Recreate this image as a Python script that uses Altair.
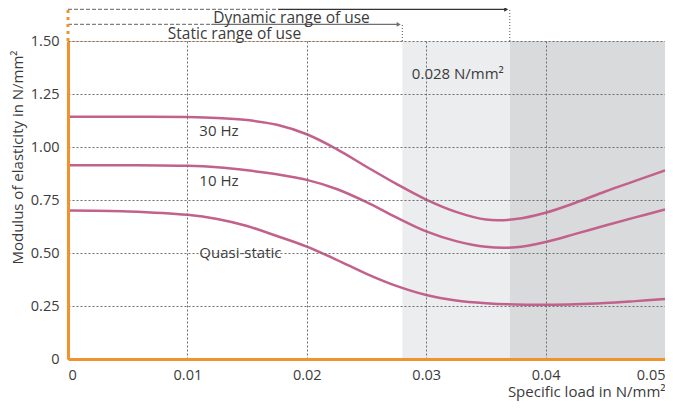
import altair as alt
import pandas as pd

# ---- data ----
load = [0, 0.005, 0.01, 0.0125, 0.015, 0.0175, 0.02, 0.0225, 0.025, 0.0275,
        0.03, 0.0325, 0.035, 0.0375, 0.04, 0.0425, 0.045, 0.0475, 0.05]
hz30 = [1.143, 1.143, 1.141, 1.137, 1.127, 1.105, 1.060, 0.990, 0.907, 0.826,
        0.752, 0.694, 0.658, 0.660, 0.690, 0.737, 0.790, 0.840, 0.890]
hz10 = [0.914, 0.914, 0.911, 0.904, 0.890, 0.871, 0.845, 0.802, 0.740, 0.668,
        0.602, 0.556, 0.529, 0.527, 0.552, 0.590, 0.630, 0.668, 0.705]
quasi = [0.700, 0.696, 0.680, 0.660, 0.627, 0.580, 0.530, 0.468, 0.402, 0.345,
         0.302, 0.276, 0.263, 0.257, 0.256, 0.258, 0.264, 0.273, 0.283]
series_names = ["30 Hz", "10 Hz", "Quasi-static"]

static_limit = 0.028
dynamic_limit = 0.037
x_max = 0.05
y_max = 1.5

x_ticks = [0, 0.01, 0.02, 0.03, 0.04, 0.05]
y_ticks = [0, 0.25, 0.5, 0.75, 1.0, 1.25, 1.5]

label_x = [0.011, 0.011, 0.011]
label_y = [1.077, 0.841, 0.50]

FONT = "Open Sans"
TXT = "#3b3b3b"
ORANGE = "#f0922e"
PINK = "#c2618b"

W, H = 597, 318

rows = []
for name, vals in zip(series_names, [hz30, hz10, quasi]):
    for xv, yv in zip(load, vals):
        rows.append({"load": xv, "E": yv, "series": name})
curves = pd.DataFrame(rows)

xs = alt.Scale(domain=[0, x_max], nice=False, zero=False)
ys = alt.Scale(domain=[0, y_max], nice=False)

lbl = "datum.value == 0 ? '0' : format(datum.value, '.2f')"

shade = pd.DataFrame({
    "x": [static_limit, dynamic_limit], "x2": [dynamic_limit, x_max],
    "y": [0, 0], "y2": [y_max, y_max], "c": ["light", "dark"]})

base_rect = alt.Chart(shade).mark_rect().encode(
    x=alt.X("x:Q", scale=xs, axis=alt.Axis(
        values=x_ticks, labelExpr=lbl, title="Specific load in N/mm²",
        grid=True, gridColor="#6f6f6f", gridDash=[2, 2], gridWidth=1,
        domainColor=ORANGE, domainWidth=3, ticks=False, labelPadding=9,
        labelFontSize=14.5, labelColor=TXT, labelFont=FONT, labelFlush=True,
        titleFont=FONT, titleFontSize=15, titleColor=TXT, titleFontWeight="normal",
        titleX=W, titleY=37, titleAlign="right", titleBaseline="alphabetic",
        titleAnchor="end", zindex=1)),
    x2="x2:Q",
    y=alt.Y("y:Q", scale=ys, axis=alt.Axis(
        values=y_ticks, labelExpr=lbl, title="Modulus of elasticity in N/mm²",
        grid=True, gridColor="#6f6f6f", gridDash=[2, 2], gridWidth=1,
        domainColor=ORANGE, domainWidth=3, ticks=False, labelPadding=9,
        labelFontSize=14.5, labelColor=TXT, labelFont=FONT, labelFlush=False,
        titleFont=FONT, titleFontSize=15, titleColor=TXT, titleFontWeight="normal",
        titleX=-51, titleY=116, titleAngle=270, titleAlign="center",
        titleBaseline="middle", zindex=1)),
    y2="y2:Q",
    color=alt.Color("c:N", scale=alt.Scale(domain=["light", "dark"],
                                           range=["#ecedef", "#d9dadb"]), legend=None),
)

lines = alt.Chart(curves).mark_line(interpolate="catmull-rom", color=PINK, strokeWidth=2.5).encode(
    x=alt.X("load:Q", scale=xs),
    y=alt.Y("E:Q", scale=ys),
    detail="series:N",
)

labels_df = pd.DataFrame({"x": label_x, "y": label_y, "t": series_names})
labels = alt.Chart(labels_df).mark_text(
    align="left", baseline="middle", font=FONT, fontSize=15, color=TXT).encode(
    x=alt.X("x:Q", scale=xs), y=alt.Y("y:Q", scale=ys), text="t:N")

note_df = pd.DataFrame({"x": [0.0288], "y": [1.346], "t": ["0.028 N/mm²"]})
note = alt.Chart(note_df).mark_text(
    align="left", baseline="middle", font=FONT, fontSize=15, color=TXT).encode(
    x=alt.X("x:Q", scale=xs), y=alt.Y("y:Q", scale=ys), text="t:N")

# annotation above plot (data units beyond the y domain)
y_dyn = 1.649
y_sta = 1.578
seg_df = pd.DataFrame({
    "x": [0, 0.0176, 0, 0.0120],
    "x2": [0.0176, dynamic_limit - 0.0004, 0.0120, static_limit - 0.0004],
    "y": [y_dyn, y_dyn, y_sta, y_sta],
    "k": ["dash", "solid_dark", "dash", "solid_gray"],
})
dash_segs = alt.Chart(seg_df[seg_df.k == "dash"]).mark_rule(
    color="#808080", strokeDash=[4, 2], strokeWidth=1.2).encode(
    x=alt.X("x:Q", scale=xs), x2="x2:Q", y=alt.Y("y:Q", scale=ys))
solid_dark = alt.Chart(seg_df[seg_df.k == "solid_dark"]).mark_rule(
    color="#333333", strokeWidth=1.3).encode(
    x=alt.X("x:Q", scale=xs), x2="x2:Q", y=alt.Y("y:Q", scale=ys))
solid_gray = alt.Chart(seg_df[seg_df.k == "solid_gray"]).mark_rule(
    color="#707070", strokeWidth=1.3).encode(
    x=alt.X("x:Q", scale=xs), x2="x2:Q", y=alt.Y("y:Q", scale=ys))

heads_df = pd.DataFrame({"x": [dynamic_limit - 0.0003, static_limit - 0.0003],
                         "y": [y_dyn, y_sta], "k": ["d", "s"]})
heads = alt.Chart(heads_df).mark_point(
    shape="triangle-right", filled=True, size=22, opacity=1).encode(
    x=alt.X("x:Q", scale=xs), y=alt.Y("y:Q", scale=ys),
    color=alt.Color("k:N", scale=alt.Scale(domain=["d", "s"], range=["#333333", "#707070"]),
                    legend=None))

vdf = pd.DataFrame({"x": [dynamic_limit, static_limit], "y": [y_max, y_max],
                    "y2": [y_dyn, y_sta]})
vlines = alt.Chart(vdf).mark_rule(color="#555555", strokeDash=[1, 2], strokeWidth=1).encode(
    x=alt.X("x:Q", scale=xs), y=alt.Y("y:Q", scale=ys), y2="y2:Q")

odf = pd.DataFrame({"x": [0], "y": [y_max], "y2": [1.653]})
orange_dots = alt.Chart(odf).mark_rule(color=ORANGE, strokeDash=[3, 4], strokeWidth=3).encode(
    x=alt.X("x:Q", scale=xs), y=alt.Y("y:Q", scale=ys), y2="y2:Q")

tdf = pd.DataFrame({"x": [0.01872, 0.01394], "y": [1.584, 1.510],
                    "t": ["Dynamic range of use", "Static range of use"]})
top_text = alt.Chart(tdf).mark_text(
    align="center", baseline="alphabetic", font=FONT, fontSize=15.5, color=TXT).encode(
    x=alt.X("x:Q", scale=xs), y=alt.Y("y:Q", scale=ys), text="t:N")

chart = alt.layer(
    base_rect, lines, labels, note, dash_segs, solid_dark, solid_gray, heads,
    vlines, orange_dots, top_text
).resolve_scale(color="independent").properties(
    width=W, height=H,
    autosize=alt.AutoSizeParams(type="none"),
    padding={"left": 60, "top": 33, "right": 0, "bottom": 42},
).configure_view(stroke="#f6c291", strokeWidth=1)

chart.save("out.html", embed_options={"renderer": "svg", "actions": False})
